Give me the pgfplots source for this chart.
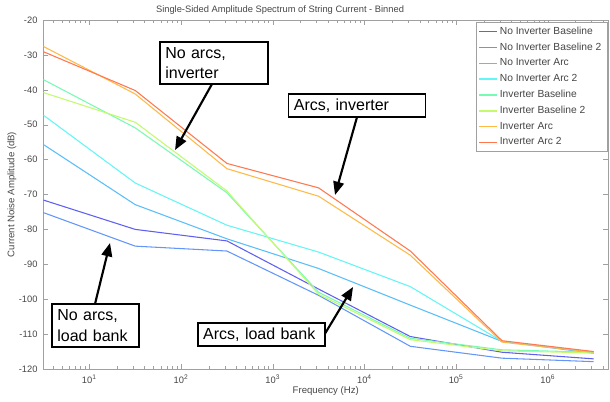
\documentclass[border=0pt]{standalone}
\usepackage{pgfplots}
\pgfplotsset{compat=1.18}
\usepackage{fontspec}
\setmainfont{Liberation Sans}
\usetikzlibrary{arrows.meta}

\definecolor{cA}{RGB}{95,95,240}
\definecolor{cB}{RGB}{100,150,250}
\definecolor{cC}{RGB}{90,190,250}
\definecolor{cD}{RGB}{100,245,245}
\definecolor{cE}{RGB}{120,250,180}
\definecolor{cF}{RGB}{195,250,110}
\definecolor{cG}{RGB}{255,185,70}
\definecolor{cH}{RGB}{255,120,80}
\definecolor{axgray}{RGB}{160,160,160}
\definecolor{txtgray}{RGB}{70,70,70}

\tikzset{
  anno/.style={draw=black, line width=1.1pt, fill=white, align=left,
    font=\fontsize{12}{15.5}\selectfont, inner xsep=4pt, inner ysep=2pt},
  annoarrow/.style={line width=1.6pt, -{Triangle[length=10pt,width=8pt]}}
}

\begin{document}
\begin{tikzpicture}
\useasboundingbox (-32.625pt,-24.75pt) rectangle (424.875pt,276.75pt);
\begin{axis}[
  at={(0,0)}, anchor=south west,
  scale only axis, width=423.4pt, height=261.75pt,
  xmode=log, log basis x=10,
  xmin=3.1623, xmax=4.53e6,
  ymin=-120, ymax=-20,
  ytick={-120,-110,...,-20},
  xticklabel={10\textsuperscript{\pgfmathparse{int(round(\tick))}\pgfmathresult}},
  /pgf/number format/assume math mode=true,
  axis line style={axgray},
  tick style={axgray},
  major tick length=3.75pt,
  minor tick length=1.9pt,
  tick align=inside,
  xtick pos=both, ytick pos=both,
  ticklabel style={font=\fontsize{7}{8}\selectfont, text=txtgray},
  yticklabel style={xshift=-1pt},
  xticklabel style={yshift=-1pt},
  title={Single-Sided Amplitude Spectrum of String Current - Binned},
  every axis title/.style={at={(0.419,1)}, anchor=center, yshift=7.5pt,
    font=\fontsize{7}{8}\selectfont, text=txtgray},
  xlabel={Frequency (Hz)},
  ylabel={Current Noise Amplitude (dB)},
  xlabel style={at={(rel axis cs:0.5,0)}, anchor=center, yshift=-16.5pt,
    font=\fontsize{7.2}{8}\selectfont, text=txtgray},
  every axis y label/.style={at={(-0.0558,0.5)}, anchor=center, rotate=90,
    font=\fontsize{7.2}{8}\selectfont, text=txtgray},
  legend style={at={(1,1)}, anchor=north east, xshift=-0.75pt, yshift=-1.5pt,
    draw=axgray, font=\fontsize{7.7}{9}\selectfont,
    row sep=0.9pt, inner xsep=2pt, inner ysep=1.5pt, cells={anchor=west}},
  legend image code/.code={\draw[#1, line width=1pt] (0pt,0pt) -- (13pt,0pt);},
  every axis plot/.append style={line width=0.8pt},
  clip=false,
]
\addplot[cA] coordinates {(3.1623,-71.6) (31.623,-80.0) (316.23,-83.3) (3162.3,-97.1) (31623,-110.7) (316228,-115.2) (3162278,-117.1)};
\addlegendentry[text=txtgray]{No Inverter Baseline}
\addplot[cB] coordinates {(3.1623,-75.2) (31.623,-84.8) (316.23,-86.2) (3162.3,-98.9) (31623,-113.5) (316228,-116.9) (3162278,-117.9)};
\addlegendentry[text=txtgray]{No Inverter Baseline 2}
\addplot[cC] coordinates {(3.1623,-55.7) (31.623,-72.9) (316.23,-82.7) (3162.3,-91.2) (31623,-101.7) (316228,-112.1) (3162278,-115.5)};
\addlegendentry[text=txtgray]{No Inverter Arc}
\addplot[cD] coordinates {(3.1623,-47.3) (31.623,-66.7) (316.23,-78.8) (3162.3,-86.5) (31623,-96.4) (316228,-112.1) (3162278,-115.2)};
\addlegendentry[text=txtgray]{No Inverter Arc 2}
\addplot[cE] coordinates {(3.1623,-37.1) (31.623,-50.9) (316.23,-69.5) (3162.3,-98.0) (31623,-111.2) (316228,-114.5) (3162278,-115.2)};
\addlegendentry[text=txtgray]{Inverter Baseline}
\addplot[cF] coordinates {(3.1623,-40.8) (31.623,-49.3) (316.23,-69.0) (3162.3,-98.6) (31623,-111.6) (316228,-114.8) (3162278,-115.4)};
\addlegendentry[text=txtgray]{Inverter Baseline 2}
\addplot[cG] coordinates {(3.1623,-27.6) (31.623,-41.2) (316.23,-62.6) (3162.3,-70.5) (31623,-87.4) (316228,-112.3) (3162278,-115.2)};
\addlegendentry[text=txtgray]{Inverter Arc}
\addplot[cH] coordinates {(3.1623,-29.1) (31.623,-40.2) (316.23,-61.1) (3162.3,-68.1) (31623,-86.2) (316228,-111.9) (3162278,-115.0)};
\addlegendentry[text=txtgray]{Inverter Arc 2}

% annotations
\draw[annoarrow] (rel axis cs:0.2985,0.8166) -- (rel axis cs:0.233,0.6275);
\draw[annoarrow] (rel axis cs:0.5554,0.7221) -- (rel axis cs:0.5164,0.4986);
\draw[annoarrow] (rel axis cs:0.0912,0.1862) -- (rel axis cs:0.1178,0.361);
\draw[annoarrow] (rel axis cs:0.4951,0.0917) -- (rel axis cs:0.5483,0.235);
\node[anno, text width=73pt, minimum height=31.5pt] at (rel axis cs:0.302,0.877) {No arcs,\\inverter};
\node[anno, text width=94.75pt, minimum height=17.25pt] at (rel axis cs:0.5554,0.755) {Arcs, inverter};
\node[anno, text width=57.25pt, minimum height=32.25pt] at (rel axis cs:0.0921,0.1246) {No arcs,\\load bank};
\node[anno, text width=87.25pt, minimum height=17.25pt] at (rel axis cs:0.386,0.0989) {Arcs, load bank};
\end{axis}
\end{tikzpicture}
\end{document}
